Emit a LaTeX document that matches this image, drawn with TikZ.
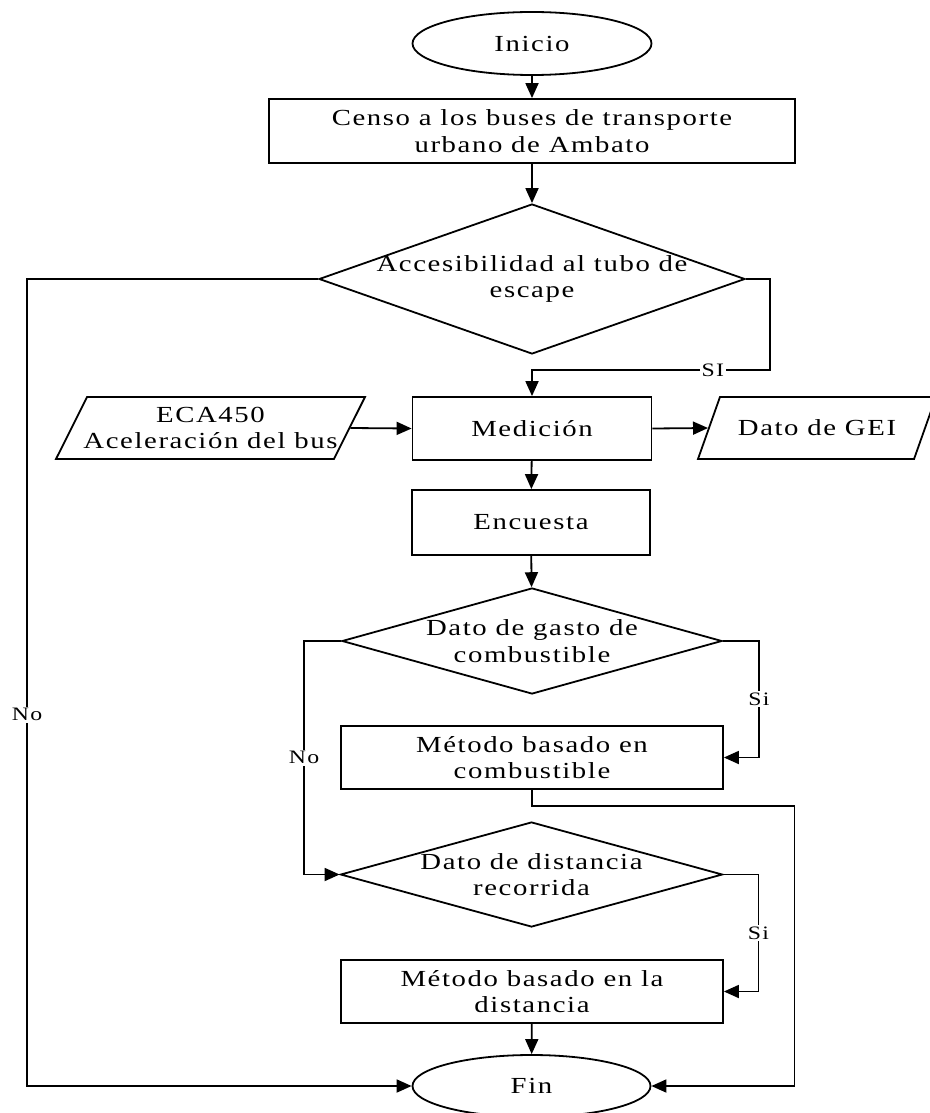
\documentclass[tikz,border=0pt]{standalone}
\usepackage{fontspec}
\setmainfont[LetterSpace=7, FakeStretch=1.25]{Liberation Serif}
\usetikzlibrary{shapes, arrows.meta, positioning}

\begin{document}
\begin{tikzpicture}[x=1pt, y=-1pt, line width=1.8pt,
          terminal/.style={ellipse, draw, minimum width=239pt, minimum height=63pt, inner sep=0pt, font=\fontsize{23}{26.5}\selectfont},
          process/.style={rectangle, draw, align=center, inner sep=0pt, font=\fontsize{23}{26.5}\selectfont},
          decision/.style={diamond, draw, inner sep=0pt, label={[align=center, font=\fontsize{23}{26.5}\selectfont]center:#1}},
          data/.style={trapezium, trapezium stretches body, draw, inner sep=0pt, text height=31pt, text depth=31pt, label={[align=center, font=\fontsize{23}{26.5}\selectfont]center:#1}},
          arrow/.style={-{Triangle[length=15pt, width=13pt]}},
          answer/.style={fill=white, inner sep=1.5pt, font=\fontsize{19}{21}\selectfont}
        ]
          \useasboundingbox (0,0) rectangle (929,1113);

          \node (inicio) [terminal] at (532,43.5) {Inicio};
          \node (censo) [process, minimum width=526pt, minimum height=64pt] at (532,131) {Censo a los buses de transporte\\urbano de Ambato};
          \node (acceso) [decision={Accesibilidad al tubo de\\escape}, minimum width=426pt, minimum height=150pt] at (532,279) {};

          \node (medicion) [process, minimum width=239pt, minimum height=63pt] at (532,428.5) {Medición};
          \node (eca) [data={ECA450\\Aceleración del bus}, trapezium left angle=63.4, trapezium right angle=116.6, minimum width=309pt] at (210.5,428) {};
          \node (gei) [data={Dato de GEI}, trapezium left angle=70.5, trapezium right angle=109.5, minimum width=238pt] at (817,428) {};
          \node (encuesta) [process, minimum width=238pt, minimum height=65pt] at (531,522.5) {Encuesta};

          \node (gasto) [decision={Dato de gasto de\\combustible}, minimum width=380pt, minimum height=106pt] at (532,641) {};
          \node (metodoc) [process, minimum width=382pt, minimum height=63pt] at (532,757.5) {Método basado en\\combustible};
          \node (distancia) [decision={Dato de distancia\\recorrida}, minimum width=382pt, minimum height=105pt] at (531.5,874.5) {};
          \node (metodod) [process, minimum width=382pt, minimum height=63pt] at (532,991.5) {Método basado en la\\distancia};
          \node (fin) [terminal, minimum width=238pt, minimum height=62pt] at (531.5,1086) {Fin};

          % main flow
          \draw[arrow] (inicio) -- (censo);
          \draw[arrow] (censo) -- (acceso);
          \draw[arrow] (acceso.east) -- ++(24,0) -- ++(0,91) -| node[answer, pos=0.12] {SI} (medicion.north);
          \draw[arrow] (acceso.west) -- ++(-291,0) |- node[answer, pos=0.27] {No} (fin.west);
          \draw[arrow] (eca.east) -- (medicion.west);
          \draw[arrow] (medicion.east) -- (gei.west);
          \draw[arrow] (medicion) -- (encuesta);
          \draw[arrow] (encuesta) -- (gasto);

          % fuel / distance branches
          \draw[arrow] (gasto.east) -- ++(36,0) |- node[answer, pos=0.25] {Si} (metodoc.east);
          \draw[arrow] (gasto.west) -- ++(-37,0) |- node[answer, pos=0.25] {No} (distancia.west);
          \draw[arrow] (metodoc.south) -- ++(0,16) -| ([xshift=143pt]fin.east) -- (fin.east);
          \draw[arrow] (distancia.east) -- ++(35,0) |- node[answer, pos=0.25] {Si} (metodod.east);
          \draw[arrow] (metodod) -- (fin);
        \end{tikzpicture}
\end{document}
